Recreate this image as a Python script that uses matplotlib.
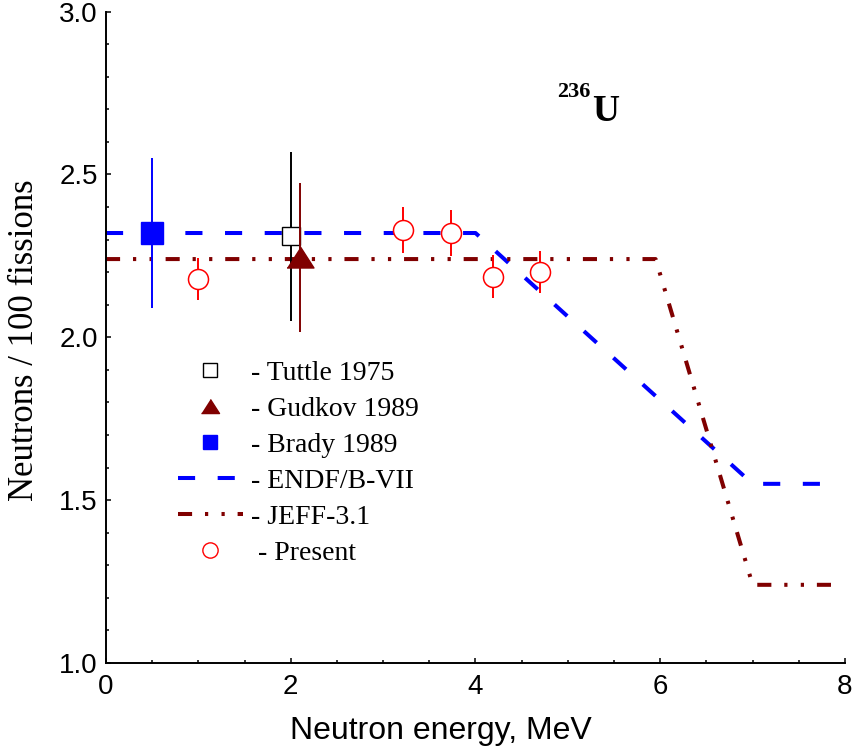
import matplotlib
matplotlib.use('Agg')
import matplotlib.pyplot as plt
from matplotlib.lines import Line2D
from matplotlib.ticker import MultipleLocator, FormatStrFormatter

# ---------------- data ----------------
tuttle_x = [2.0]
tuttle_y = [2.31]
tuttle_err = [0.26]

gudkov_x = [2.1]
gudkov_y = [2.245]
gudkov_err = [0.23]

brady_x = [0.5]
brady_y = [2.32]
brady_err = [0.23]

present_x = [1.0, 3.22, 3.73, 4.19, 4.70]
present_y = [2.178, 2.329, 2.32, 2.186, 2.201]
present_err = [0.065, 0.07, 0.07, 0.065, 0.065]

endf_x = [0.0, 4.0, 7.0, 7.8]
endf_y = [2.32, 2.32, 1.55, 1.55]

jeff_x = [0.0, 5.95, 7.0, 7.9]
jeff_y = [2.24, 2.24, 1.24, 1.24]

labels = ["- Tuttle 1975", "- Gudkov 1989", "- Brady 1989",
          "- ENDF/B-VII", "- JEFF-3.1", " - Present"]

# ---------------- style ----------------
BLUE = '#0000ff'
MAROON = '#800000'
RED = '#ff0000'
SERIF = ['Liberation Serif', 'DejaVu Serif']
SANS = ['Liberation Sans', 'DejaVu Sans']

endf_ls = (0, (4.25, 5.6))
jeff_ls = (0, (3.5, 3.2, 0.8, 3.3, 0.8, 3.2))
tri = [(-1, -0.78), (1, -0.78), (0, 0.78)]

fig = plt.figure(figsize=(8.53, 7.53), dpi=100)
ax = fig.add_axes([106 / 853, 90 / 753, 739 / 853, 651.5 / 753])

ax.plot(endf_x, endf_y, color=BLUE, lw=2.9, linestyle=endf_ls, zorder=2)
ax.plot(jeff_x, jeff_y, color=MAROON, lw=2.9, linestyle=jeff_ls, zorder=2)

ax.errorbar(brady_x, brady_y, yerr=brady_err, fmt='s', color=BLUE, ms=15.8,
            mfc=BLUE, mec=BLUE, elinewidth=1.4, capsize=0, zorder=4)
ax.errorbar(tuttle_x, tuttle_y, yerr=tuttle_err, fmt='s', color='black', ms=13,
            mfc='white', mec='black', mew=1.0, elinewidth=1.4, capsize=0, zorder=4)
ax.errorbar(gudkov_x, gudkov_y, yerr=gudkov_err, fmt='none', ecolor=MAROON,
            elinewidth=1.4, capsize=0, zorder=5)
ax.plot(gudkov_x, gudkov_y, linestyle='none', marker=tri, ms=19.4,
        color=MAROON, mec=MAROON, zorder=6)
ax.errorbar(present_x, present_y, yerr=present_err, fmt='o', color=RED, ms=14.4,
            mfc='white', mec=RED, mew=1.1, elinewidth=1.4, capsize=0, zorder=4)

ax.set_xlim(0, 8)
ax.set_ylim(1.0, 3.0)
ax.xaxis.set_major_locator(MultipleLocator(2))
ax.xaxis.set_minor_locator(MultipleLocator(0.5))
ax.yaxis.set_major_locator(MultipleLocator(0.5))
ax.yaxis.set_minor_locator(MultipleLocator(0.1))
ax.yaxis.set_major_formatter(FormatStrFormatter('%.1f'))

for s in ['top', 'right']:
    ax.spines[s].set_visible(False)
for s in ['left', 'bottom']:
    ax.spines[s].set_linewidth(1.4)

ax.tick_params(which='both', direction='in', width=1.1, color='black')
ax.tick_params(which='major', length=3.6)
ax.tick_params(which='minor', length=2.2)
ax.tick_params(axis='x', which='major', pad=8.0, labelsize=20)
ax.tick_params(axis='y', which='major', pad=5.8, labelsize=20)
for lab in ax.get_xticklabels() + ax.get_yticklabels():
    lab.set_family(SANS)

ax.set_xlabel('Neutron energy, MeV', family=SANS, fontsize=23)
ax.xaxis.set_label_coords((440.5 - 106) / 739, -0.082)
ax.set_ylabel('Neutrons / 100 fissions', family=SERIF, fontsize=25)
ax.yaxis.set_label_coords(-0.0886, 0.496)

# isotope label
ax.text(5.24, 2.7375, '236', family=SERIF, fontweight='bold', fontsize=16,
        ha='right', va='baseline')
ax.text(5.26, 2.664, 'U', family=SERIF, fontweight='bold', fontsize=27,
        ha='left', va='baseline')

handles = [
    Line2D([], [], linestyle='none', marker='s', ms=9.5, mfc='white', mec='black', mew=1.0),
    Line2D([], [], linestyle='none', marker=tri, ms=13, color=MAROON),
    Line2D([], [], linestyle='none', marker='s', ms=10, color=BLUE),
    Line2D([], [], color=BLUE, lw=2.9, linestyle=endf_ls),
    Line2D([], [], color=MAROON, lw=2.9, linestyle=jeff_ls),
    Line2D([], [], linestyle='none', marker='o', ms=11, mfc='white', mec=RED, mew=1.0),
]
leg = ax.legend(handles, labels, loc='upper left', bbox_to_anchor=(72 / 739, 0.4643),
                frameon=False, borderpad=0, borderaxespad=0, handlelength=2.34,
                handletextpad=0.29, labelspacing=0.38,
                prop={'family': SERIF, 'size': 20})

fig.savefig('out.png', dpi=100)
